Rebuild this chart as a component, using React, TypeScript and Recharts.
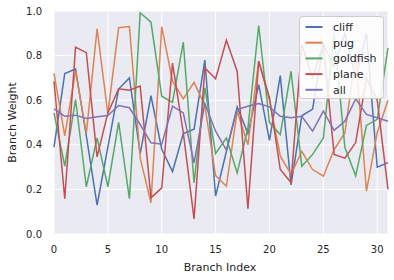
import React from "react";
import * as R from "recharts";
import { LineChart, Line, XAxis, YAxis, CartesianGrid, Label, Customized } from "recharts";

const branchIndex = Array.from({ length: 32 }, (_, i) => i);
const cliff = [0.39, 0.72, 0.74, 0.44, 0.13, 0.39, 0.65, 0.7, 0.36, 0.62, 0.38, 0.28, 0.45, 0.47, 0.78, 0.17, 0.37, 0.57, 0.45, 0.67, 0.42, 0.71, 0.22, 0.53, 0.56, 0.85, 0.75, 0.9, 0.7, 0.9, 0.3, 0.32];
const pug = [0.72, 0.44, 0.73, 0.45, 0.92, 0.54, 0.925, 0.93, 0.34, 0.14, 0.93, 0.685, 0.606, 0.68, 0.576, 0.262, 0.214, 0.55, 0.4, 0.775, 0.6, 0.35, 0.267, 0.371, 0.289, 0.259, 0.379, 0.454, 0.8, 0.192, 0.454, 0.6];
const goldfish = [0.543, 0.304, 0.603, 0.212, 0.431, 0.212, 0.501, 0.158, 0.992, 0.95, 0.618, 0.59, 0.86, 0.23, 0.656, 0.361, 0.431, 0.274, 0.476, 0.935, 0.499, 0.446, 0.73, 0.304, 0.357, 0.431, 0.9, 0.388, 0.261, 0.487, 0.514, 0.835];
const plane = [0.685, 0.158, 0.838, 0.813, 0.346, 0.543, 0.651, 0.645, 0.663, 0.162, 0.207, 0.766, 0.454, 0.068, 0.745, 0.696, 0.869, 0.73, 0.113, 0.775, 0.611, 0.289, 0.231, 0.85, 0.7, 0.85, 0.357, 0.34, 0.41, 0.7, 0.6, 0.2];
const all = [0.561, 0.528, 0.533, 0.518, 0.526, 0.531, 0.576, 0.566, 0.491, 0.409, 0.403, 0.573, 0.543, 0.319, 0.585, 0.461, 0.376, 0.558, 0.573, 0.585, 0.57, 0.528, 0.521, 0.528, 0.461, 0.551, 0.465, 0.506, 0.606, 0.536, 0.521, 0.506];

const xTicks = [0, 5, 10, 15, 20, 25, 30];
const yTicks = [0, 0.2, 0.4, 0.6, 0.8, 1.0];

const seriesNames = ["cliff", "pug", "goldfish", "plane", "all"];
const seriesValues = [cliff, pug, goldfish, plane, all];
const colors = ["#4C72B0", "#DD8452", "#55A868", "#C44E52", "#8172B3"];

const data = branchIndex.map((x, i) => {
  const row: any = { x };
  seriesNames.forEach((n, k) => (row[n] = seriesValues[k][i]));
  return row;
});

const FONT = "'DejaVu Sans', sans-serif";
const TXT = "#262626";
const ZL: any = (R as any).ZIndexLayer;

const LegendInner = () => {
  const lx = 299.5;
  const ly = 16.5;
  return (
    <g className="legend-box">
      <rect x={lx} y={ly} width={84} height={82} rx={3} ry={3} fill="#FFFFFF" fillOpacity={0.85} stroke="#CCCCCC" strokeWidth={1} />
      {seriesNames.map((n, k) => {
        const cy = ly + 10.5 + k * 15.7;
        return (
          <g key={n}>
            <line x1={lx + 6} x2={lx + 23} y1={cy} y2={cy} stroke={colors[k]} strokeWidth={2} />
            <text x={lx + 33.5} y={cy + 4} fontSize={11} fill={TXT} fontFamily={FONT}>
              {n}
            </text>
          </g>
        );
      })}
    </g>
  );
};

const LegendBox = () => (ZL ? <ZL zIndex={5000}><LegendInner /></ZL> : <LegendInner />);

export default function App() {
  return (
    <div style={{ position: "relative", width: 394, height: 280 }}>
      <style>{"body{margin:0}"}</style>
      <LineChart width={394} height={280} data={data} margin={{ top: 11, right: 6, bottom: 0, left: 0 }}>
        <CartesianGrid fill="#EAEAF2" fillOpacity={1} stroke="#FFFFFF" strokeWidth={1} horizontal vertical />
        <XAxis
          dataKey="x"
          type="number"
          domain={[0, 31]}
          ticks={xTicks}
          axisLine={false}
          tickLine={false}
          tickMargin={6}
          height={46}
          tick={{ fontSize: 10, fill: TXT, fontFamily: FONT }}
        >
          <Label
            content={(p: any) => {
              const vb = p.viewBox;
              return (
                <text x={vb.x + vb.width / 2 - 1} y={271} textAnchor="middle" fontSize={11} fill={TXT} fontFamily={FONT}>
                  Branch Index
                </text>
              );
            }}
          />
        </XAxis>
        <YAxis
          type="number"
          domain={[0, 1]}
          ticks={yTicks}
          axisLine={false}
          tickLine={false}
          tickMargin={6}
          width={54}
          tickFormatter={(v: number) => v.toFixed(1)}
          tick={{ fontSize: 10, fill: TXT, fontFamily: FONT }}
        >
          <Label
            content={(p: any) => {
              const vb = p.viewBox;
              const cy = vb.y + vb.height / 2;
              return (
                <text
                  x={15.5}
                  y={cy}
                  transform={`rotate(-90, 15.5, ${cy})`}
                  textAnchor="middle"
                  fontSize={11}
                  fill={TXT}
                  fontFamily={FONT}
                >
                  Branch Weight
                </text>
              );
            }}
          />
        </YAxis>
        {seriesNames.map((n, k) => (
          <Line
            key={n}
            type="linear"
            dataKey={n}
            stroke={colors[k]}
            strokeWidth={1.5}
            dot={false}
            activeDot={false}
            isAnimationActive={false}
          />
        ))}
        <Customized component={LegendBox} />
      </LineChart>
    </div>
  );
}
